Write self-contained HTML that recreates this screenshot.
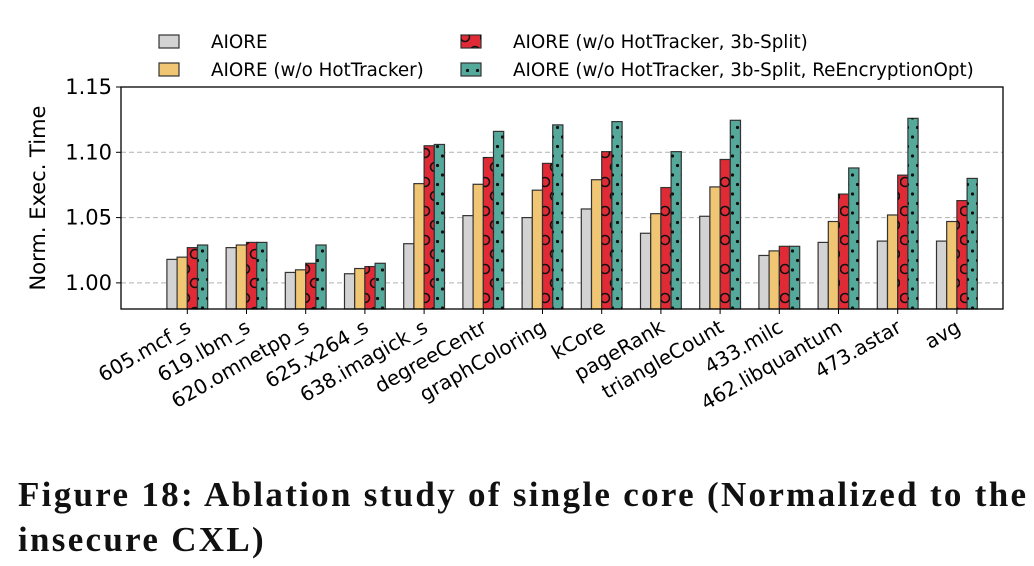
<!DOCTYPE html>
<html><head><meta charset="utf-8"><style>
html,body{margin:0;padding:0;background:#fff;width:1034px;height:566px;overflow:hidden}
svg text{font-family:"DejaVu Sans","Liberation Sans",sans-serif}
.cap{position:absolute;left:18px;top:472px;font-family:"Liberation Serif",serif;font-weight:bold;font-size:35px;letter-spacing:2.3px;line-height:45px;color:#111;width:1030px;white-space:nowrap}
</style></head><body>
<svg id="chart" width="1034" height="470" style="position:absolute;left:0;top:0">
<defs>
<pattern id="circ" width="20" height="29" patternUnits="userSpaceOnUse">
<circle cx="5" cy="8" r="4.5" fill="none" stroke="#111" stroke-width="1.6"/>
<circle cx="15" cy="22" r="4.5" fill="none" stroke="#111" stroke-width="1.6"/>
</pattern>
<pattern id="dots" width="10" height="19" patternUnits="userSpaceOnUse">
<circle cx="2.5" cy="4" r="1.6" fill="#111"/>
<circle cx="7.5" cy="13.5" r="1.6" fill="#111"/>
</pattern>
</defs>
<g id="grid"></g><g id="bars"></g><g id="axes"></g><g id="legend"></g>
</svg>
<div class="cap">Figure 18: Ablation study of single core (Normalized to the<br>insecure CXL)</div>
<script>
const categories=["605.mcf_s","619.lbm_s","620.omnetpp_s","625.x264_s","638.imagick_s","degreeCentr","graphColoring","kCore","pageRank","triangleCount","433.milc","462.libquantum","473.astar","avg"];
const aiore=[1.018,1.027,1.008,1.007,1.030,1.0515,1.050,1.0566,1.038,1.051,1.021,1.031,1.032,1.032];
const noHot=[1.0197,1.029,1.010,1.011,1.076,1.0755,1.071,1.079,1.053,1.0735,1.0245,1.047,1.052,1.047];
const split=[1.027,1.031,1.015,1.0125,1.105,1.096,1.0915,1.1005,1.073,1.0945,1.028,1.068,1.0825,1.063];
const reenc=[1.029,1.031,1.029,1.015,1.106,1.116,1.121,1.1235,1.1005,1.1245,1.028,1.088,1.126,1.080];
const yTicks=[1.00,1.05,1.10,1.15];
const seriesNames=["AIORE","AIORE (w/o HotTracker)","AIORE (w/o HotTracker, 3b-Split)","AIORE (w/o HotTracker, 3b-Split, ReEncryptionOpt)"];

const NS="http://www.w3.org/2000/svg";
const L=121,R=1003,T=87,B=309,yMin=0.98,yMax=1.15;
const y=v=>B-(v-yMin)/(yMax-yMin)*(B-T);
const x0=187.3,step=59.2;
const xc=i=>x0+i*step;
const bw=10.2;
function mk(tag,attrs,parent){const e=document.createElementNS(NS,tag);for(const k in attrs)e.setAttribute(k,attrs[k]);parent.appendChild(e);return e;}
const grid=document.getElementById('grid'),bars=document.getElementById('bars'),axes=document.getElementById('axes'),leg=document.getElementById('legend');
yTicks.forEach(t=>{
  if(t<yMax-1e-9){const g=mk('line',{x1:L,x2:R,y1:y(t),y2:y(t),stroke:'#b0b0b0','stroke-dasharray':'5,3','stroke-width':1},grid);
  
  }
  const tk=mk('line',{x1:L-5,x2:L,y1:y(t),y2:y(t),stroke:'#000','stroke-width':1},axes);
  
  
  const tx=mk('text',{x:L-9,y:y(t)+7,'text-anchor':'end','font-size':21},axes);
  tx.textContent=t.toFixed(2);
  
  
});
const series=[aiore,noHot,split,reenc];
const fills=['#d3d3d3','#f0c674','#e02a35','#55a99a'];
const pats=[null,null,'url(#circ)','url(#dots)'];
const snames=['aiore','no-hottracker','3b-split','reencryption-opt'];
series.forEach((s,si)=>{
  s.forEach((v,i)=>{
    const bx=xc(i)-2*bw+si*bw, by=y(v), h=B-by;
    const r=mk('rect',{x:bx,y:by,width:bw,height:h,fill:fills[si],stroke:'#333','stroke-width':1.2},bars);
    
    
    if(pats[si]){const p=mk('rect',{x:bx,y:by,width:bw,height:h,fill:pats[si]},bars);
      
      }
  });
});
const frame=mk('rect',{x:L,y:T,width:R-L,height:B-T,fill:'none',stroke:'#000','stroke-width':1.3},axes);


categories.forEach((c,i)=>{
  const tk=mk('line',{x1:xc(i),x2:xc(i),y1:B,y2:B+5,stroke:'#000'},axes);
  
  
  const tx=mk('text',{x:xc(i)+5,y:B+22,'text-anchor':'end','font-size':20,transform:`rotate(-30 ${xc(i)+5} ${B+22})`},axes);
  tx.textContent=c;
  
  
});
const yt=mk('text',{x:45,y:(T+B)/2,'text-anchor':'middle','font-size':21,transform:`rotate(-90 45 ${(T+B)/2})`},axes);
yt.textContent='Norm. Exec. Time';


const lpos=[[159,42],[159,70],[461,42],[461,70]];
seriesNames.forEach((n,si)=>{
  const [lx,ly]=lpos[si];
  const r=mk('rect',{x:lx,y:ly-7,width:20,height:13,fill:fills[si],stroke:'#333','stroke-width':1.2},leg);
  
  
  if(pats[si]){const p=mk('rect',{x:lx,y:ly-7,width:20,height:13,fill:pats[si],transform:`translate(0 ${-(ly-7)%19+ (ly-7)%19})`},leg);
    
    }
  const t=mk('text',{x:lx+52,y:ly+6,'font-size':18.3},leg);
  t.textContent=n;
  
  
});
</script>
</body></html>
